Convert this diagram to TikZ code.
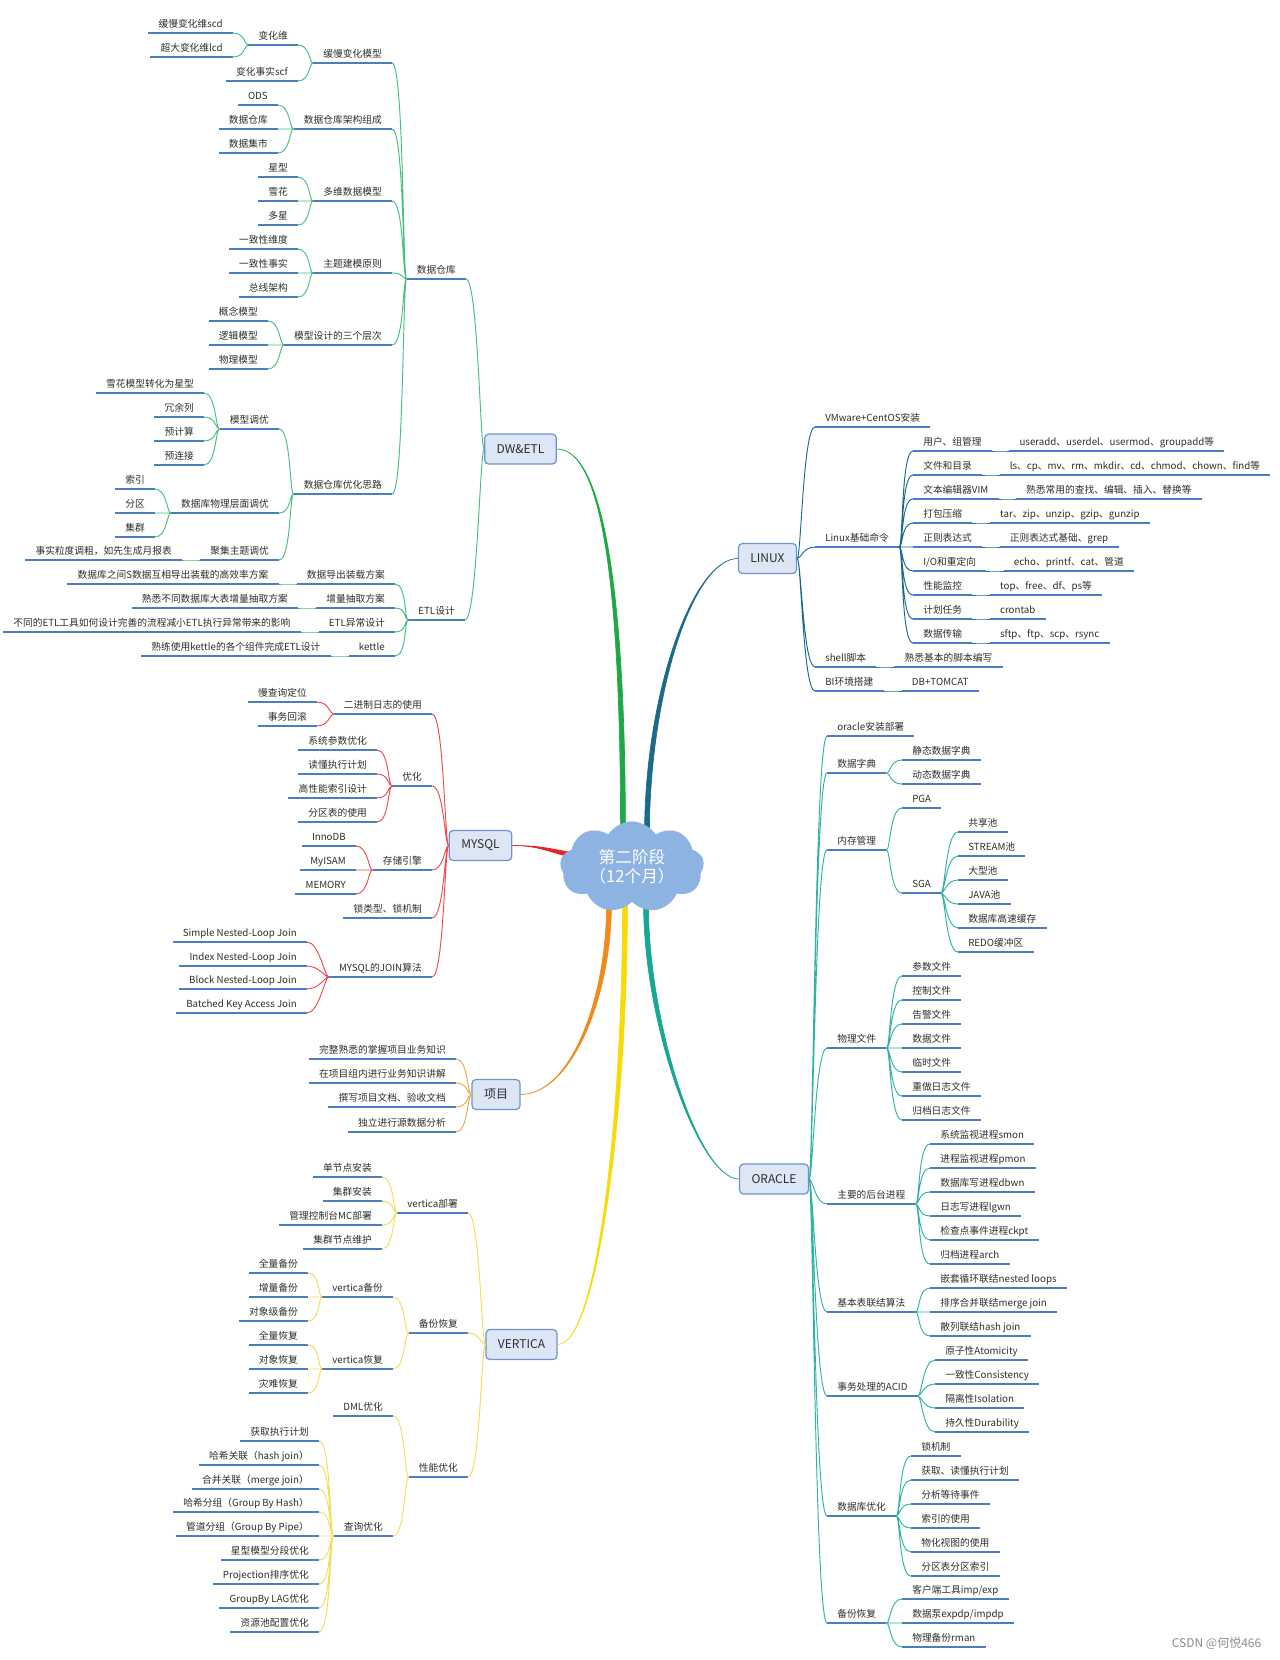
\documentclass[tikz,border=0pt]{standalone}
\usepackage{fontspec}
\setmainfont{Noto Sans CJK SC}
\usepackage{xcolor}
\usepackage{tikz}
\usetikzlibrary{positioning,shapes.symbols}

\definecolor{ubl}{HTML}{4A7EBF}
\definecolor{txt}{HTML}{2E2E2E}
\definecolor{boxf}{HTML}{DCE6F4}
\definecolor{boxd}{HTML}{6D94CC}
\definecolor{cldf}{HTML}{8DB3E2}
\definecolor{cGrn}{HTML}{1EA843}
\definecolor{cGrnL}{HTML}{44C07A}
\definecolor{cLin}{HTML}{1B6A89}
\definecolor{cRed}{HTML}{E82228}
\definecolor{cRedL}{HTML}{EC4B4E}
\definecolor{cOrg}{HTML}{F08A1C}
\definecolor{cOrgL}{HTML}{F2A64A}
\definecolor{cYel}{HTML}{F7DA06}
\definecolor{cYelL}{HTML}{F4DC55}
\definecolor{cOra}{HTML}{18A795}
\definecolor{cOraL}{HTML}{2FB3A3}
\definecolor{wmk}{HTML}{8C8C8C}

\newcommand\tsz{\fontsize{7.3pt}{8.5pt}\selectfont}
\newcommand\hsz{\fontsize{9pt}{11pt}\selectfont}
\newcommand\csz{\fontsize{12.5pt}{14.5pt}\selectfont}

\begin{document}
\begin{tikzpicture}[
  x=0.75pt, y=-0.75pt,
  tp/.style={font=\tsz,text=txt,inner xsep=7.5pt,inner ysep=2.4pt,text height=6.3pt,text depth=1.7pt,
    append after command={\pgfextra{\draw[ubl,line width=1.6pt] (\tikzlastnode.south west) -- (\tikzlastnode.south east);}}},
  lt/.style={tp,anchor=south east},
  rt/.style={tp,anchor=south west},
  hub/.style={draw=boxd,fill=boxf,rounded corners=3pt,line width=0.9pt,font=\hsz,text=txt,minimum height=22.5pt,inner xsep=9pt},
  lk/.style={draw=#1,line width=0.7pt,out=180,in=0,out distance=3pt,in distance=9pt},
  rk/.style={draw=#1,line width=0.7pt,out=0,in=180,out distance=3pt,in distance=9pt},
  trunk/.style={fill=#1,draw=#1,line width=0.5pt}
]
  \fill[white] (0,0) rectangle (1280,1660);
  \useasboundingbox (0,0) rectangle (1280,1660);

  % main topics
  \node[hub] (dw) at (520.5,449) {DW\&ETL};
  \node[hub] (lx) at (767.5,558.5) {LINUX};
  \node[hub] (my) at (480.5,845.5) {MYSQL};
  \node[hub] (xm) at (496,1094.5) {项目};
  \node[hub] (vt) at (521.5,1344.5) {VERTICA};
  \node[hub] (ora) at (774,1179) {ORACLE};

  \coordinate (cDW) at (623,834);
  \coordinate (cLX) at (647,834);
  \coordinate (cMY) at (578,856);
  \coordinate (cXM) at (609,904);
  \coordinate (cVT) at (625,904);
  \coordinate (cOR) at (646,904);

  \path[trunk=cGrn] (dw.east) .. controls +(45,0) and +(0,-250) .. ([xshift=-1.8pt]cDW) -- ([xshift=1.8pt]cDW) .. controls +(0,-250) and +(45,0) .. (dw.east) -- cycle;
  \path[trunk=cLin] (lx.west) .. controls +(-45,0) and +(0,-140) .. ([xshift=-1.8pt]cLX) -- ([xshift=1.8pt]cLX) .. controls +(0,-140) and +(-45,0) .. (lx.west) -- cycle;
  \path[trunk=cRed] (my.east) .. controls +(30,0) and +(-25,-4) .. ([yshift=1.8pt]cMY) -- ([yshift=-1.8pt]cMY) .. controls +(-25,-4) and +(30,0) .. (my.east) -- cycle;
  \path[trunk=cOrg] (xm.east) .. controls +(50,0) and +(0,95) .. ([xshift=-1.8pt]cXM) -- ([xshift=1.8pt]cXM) .. controls +(0,95) and +(50,0) .. (xm.east) -- cycle;
  \path[trunk=cYel] (vt.east) .. controls +(41,0) and +(0,200) .. ([xshift=-1.8pt]cVT) -- ([xshift=1.8pt]cVT) .. controls +(0,200) and +(41,0) .. (vt.east) -- cycle;
  \path[trunk=cOra] (ora.west) .. controls +(-40,0) and +(0,120) .. ([xshift=-1.8pt]cOR) -- ([xshift=1.8pt]cOR) .. controls +(0,120) and +(-40,0) .. (ora.west) -- cycle;

  \node[cloud,cloud puffs=9,cloud puff arc=115,aspect=1.65,fill=cldf,minimum width=108pt,minimum height=65pt,inner sep=0pt,font=\csz,text=white,align=center] (cl) at (632,867) {第二阶段\\（12个月）};

  % DW&ETL
  \node[lt] (dwh) at (466,279) {数据仓库};
  \node[lt] (etl) at (465,620) {ETL设计};
  \draw[lk=cGrnL] (dw.west) to (dwh.south east) (dw.west) to (etl.south east);

  \node[lt] (scm) at (392,63) {缓慢变化模型};
  \node[lt] (arc) at (392,129) {数据仓库架构组成};
  \node[lt] (mdm) at (392,201) {多维数据模型};
  \node[lt] (tpr) at (392,273) {主题建模原则};
  \node[lt] (lvl) at (392,345) {模型设计的三个层次};
  \node[lt] (opt) at (392,494) {数据仓库优化思路};
  \draw[lk=cGrnL] (dwh.south west) to (scm.south east) (dwh.south west) to (arc.south east)
    (dwh.south west) to (mdm.south east) (dwh.south west) to (tpr.south east)
    (dwh.south west) to (lvl.south east) (dwh.south west) to (opt.south east);

  \node[lt] (chd) at (298,45) {变化维};
  \node[lt] (chf) at (298,81) {变化事实scf};
  \node[lt] (scd) at (233,33) {缓慢变化维scd};
  \node[lt] (lcd) at (233,57) {超大变化维lcd};
  \draw[lk=cGrnL] (scm.south west) to (chd.south east) (scm.south west) to (chf.south east);
  \draw[lk=cGrnL] (chd.south west) to (scd.south east) (chd.south west) to (lcd.south east);

  \node[lt] (ods) at (278,105) {ODS};
  \node[lt] (dwc) at (278,129) {数据仓库};
  \node[lt] (dmt) at (278,153) {数据集市};
  \draw[lk=cGrnL] (arc.south west) to (ods.south east) (arc.south west) to (dwc.south east) (arc.south west) to (dmt.south east);

  \node[lt] (star) at (298,177) {星型};
  \node[lt] (snow) at (298,201) {雪花};
  \node[lt] (mst) at (298,225) {多星};
  \draw[lk=cGrnL] (mdm.south west) to (star.south east) (mdm.south west) to (snow.south east) (mdm.south west) to (mst.south east);

  \node[lt] (cdim) at (298,249) {一致性维度};
  \node[lt] (cfac) at (298,273) {一致性事实};
  \node[lt] (bus) at (298,297) {总线架构};
  \draw[lk=cGrnL] (tpr.south west) to (cdim.south east) (tpr.south west) to (cfac.south east) (tpr.south west) to (bus.south east);

  \node[lt] (cpm) at (268,321) {概念模型};
  \node[lt] (lgm) at (268,345) {逻辑模型};
  \node[lt] (phm) at (268,369) {物理模型};
  \draw[lk=cGrnL] (lvl.south west) to (cpm.south east) (lvl.south west) to (lgm.south east) (lvl.south west) to (phm.south east);

  \node[lt] (mtn) at (279,429) {模型调优};
  \node[lt] (ptn) at (279,513) {数据库物理层面调优};
  \node[lt] (atn) at (279,560) {聚集主题调优};
  \draw[lk=cGrnL] (opt.south west) to (mtn.south east) (opt.south west) to (ptn.south east) (opt.south west) to (atn.south east);

  \node[lt] (s2s) at (204,393) {雪花模型转化为星型};
  \node[lt] (rcol) at (204,417) {冗余列};
  \node[lt] (prec) at (204,441) {预计算};
  \node[lt] (prej) at (204,465) {预连接};
  \draw[lk=cGrnL] (mtn.south west) to (s2s.south east) (mtn.south west) to (rcol.south east)
    (mtn.south west) to (prec.south east) (mtn.south west) to (prej.south east);

  \node[lt] (idx) at (155,489) {索引};
  \node[lt] (prt) at (155,513) {分区};
  \node[lt] (clu) at (155,537) {集群};
  \draw[lk=cGrnL] (ptn.south west) to (idx.south east) (ptn.south west) to (prt.south east) (ptn.south west) to (clu.south east);

  \node[lt,left=13.5pt of atn.south west,anchor=south east] (grn) {事实粒度调粗，如先生成月报表};
  \draw[lk=cGrnL] (atn.south west) to (grn.south east);

  \node[lt] (ex) at (395,584) {数据导出装载方案};
  \node[lt] (inc) at (395,608) {增量抽取方案};
  \node[lt] (eer) at (395,632) {ETL异常设计};
  \node[lt] (ket) at (395,656) {kettle};
  \draw[lk=cGrnL] (etl.south west) to (ex.south east) (etl.south west) to (inc.south east)
    (etl.south west) to (eer.south east) (etl.south west) to (ket.south east);
  \node[lt,left=13.5pt of ex.south west,anchor=south east] (exd) {数据库之间S数据互相导出装载的高效率方案};
  \node[lt,left=13.5pt of inc.south west,anchor=south east] (incd) {熟悉不同数据库大表增量抽取方案};
  \node[lt,left=13.5pt of eer.south west,anchor=south east] (eerd) {不同的ETL工具如何设计完善的流程减小ETL执行异常带来的影响};
  \node[lt,left=13.5pt of ket.south west,anchor=south east] (ketd) {熟练使用kettle的各个组件完成ETL设计};
  \draw[lk=cGrnL] (ex.south west) to (exd.south east) (inc.south west) to (incd.south east)
    (eer.south west) to (eerd.south east) (ket.south west) to (ketd.south east);

  % MYSQL
  \node[lt] (bin) at (432,714) {二进制日志的使用};
  \node[lt] (myo) at (432,786) {优化};
  \node[lt] (eng) at (432,870) {存储引擎};
  \node[lt] (lck) at (432,918) {锁类型、锁机制};
  \node[lt] (jn) at (432,977) {MYSQL的JOIN算法};
  \draw[lk=cRedL] (my.west) to (bin.south east) (my.west) to (myo.south east) (my.west) to (eng.south east)
    (my.west) to (lck.south east) (my.west) to (jn.south east);

  \node[lt] (slw) at (317,702) {慢查询定位};
  \node[lt] (rbk) at (317,726) {事务回滚};
  \draw[lk=cRedL] (bin.south west) to (slw.south east) (bin.south west) to (rbk.south east);

  \node[lt] (sysp) at (377,750) {系统参数优化};
  \node[lt] (rexp) at (377,774) {读懂执行计划};
  \node[lt] (hidx) at (377,798) {高性能索引设计};
  \node[lt] (ptab) at (377,822) {分区表的使用};
  \draw[lk=cRedL] (myo.south west) to (sysp.south east) (myo.south west) to (rexp.south east)
    (myo.south west) to (hidx.south east) (myo.south west) to (ptab.south east);

  \node[lt] (inno) at (356,846) {InnoDB};
  \node[lt] (myi) at (356,870) {MyISAM};
  \node[lt] (mem) at (356,894) {MEMORY};
  \draw[lk=cRedL] (eng.south west) to (inno.south east) (eng.south west) to (myi.south east) (eng.south west) to (mem.south east);

  \node[lt] (snl) at (307,942) {Simple Nested-Loop Join};
  \node[lt] (inl) at (307,966) {Index Nested-Loop Join};
  \node[lt] (bnl) at (307,989) {Block Nested-Loop Join};
  \node[lt] (bka) at (307,1013) {Batched Key Access Join};
  \draw[lk=cRedL] (jn.south west) to (snl.south east) (jn.south west) to (inl.south east)
    (jn.south west) to (bnl.south east) (jn.south west) to (bka.south east);

  % 项目
  \node[lt] (k1) at (456,1059) {完整熟悉的掌握项目业务知识};
  \node[lt] (k2) at (456,1083) {在项目组内进行业务知识讲解};
  \node[lt] (k3) at (456,1107) {撰写项目文档、验收文档};
  \node[lt] (k4) at (456,1132) {独立进行源数据分析};
  \draw[lk=cOrgL] (xm.west) to (k1.south east) (xm.west) to (k2.south east) (xm.west) to (k3.south east) (xm.west) to (k4.south east);

  % VERTICA
  \node[lt] (dep) at (468,1213) {vertica部署};
  \node[lt] (bak) at (468,1333) {备份恢复};
  \node[lt] (prf) at (468,1477) {性能优化};
  \draw[lk=cYelL] (vt.west) to (dep.south east) (vt.west) to (bak.south east) (vt.west) to (prf.south east);

  \node[lt] (d1) at (382,1177) {单节点安装};
  \node[lt] (d2) at (382,1201) {集群安装};
  \node[lt] (d3) at (382,1225) {管理控制台MC部署};
  \node[lt] (d4) at (382,1249) {集群节点维护};
  \draw[lk=cYelL] (dep.south west) to (d1.south east) (dep.south west) to (d2.south east)
    (dep.south west) to (d3.south east) (dep.south west) to (d4.south east);

  \node[lt] (vb) at (393,1297) {vertica备份};
  \node[lt] (vr) at (393,1369) {vertica恢复};
  \draw[lk=cYelL] (bak.south west) to (vb.south east) (bak.south west) to (vr.south east);
  \node[lt] (b1) at (308,1273) {全量备份};
  \node[lt] (b2) at (308,1297) {增量备份};
  \node[lt] (b3) at (308,1321) {对象级备份};
  \draw[lk=cYelL] (vb.south west) to (b1.south east) (vb.south west) to (b2.south east) (vb.south west) to (b3.south east);
  \node[lt] (r1) at (308,1345) {全量恢复};
  \node[lt] (r2) at (308,1369) {对象恢复};
  \node[lt] (r3) at (308,1393) {灾难恢复};
  \draw[lk=cYelL] (vr.south west) to (r1.south east) (vr.south west) to (r2.south east) (vr.south west) to (r3.south east);

  \node[lt] (dml) at (393,1416) {DML优化};
  \node[lt] (qry) at (393,1536) {查询优化};
  \draw[lk=cYelL] (prf.south west) to (dml.south east) (prf.south west) to (qry.south east);
  \node[lt] (q1) at (319,1441) {获取执行计划};
  \node[lt] (q2) at (319,1465) {哈希关联（hash join）};
  \node[lt] (q3) at (319,1489) {合并关联（merge join）};
  \node[lt] (q4) at (319,1512) {哈希分组（Group By Hash）};
  \node[lt] (q5) at (319,1536) {管道分组（Group By Pipe）};
  \node[lt] (q6) at (319,1560) {星型模型分段优化};
  \node[lt] (q7) at (319,1584) {Projection排序优化};
  \node[lt] (q8) at (319,1608) {GroupBy LAG优化};
  \node[lt] (q9) at (319,1632) {资源池配置优化};
  \draw[lk=cYelL] (qry.south west) to (q1.south east) (qry.south west) to (q2.south east) (qry.south west) to (q3.south east)
    (qry.south west) to (q4.south east) (qry.south west) to (q5.south east) (qry.south west) to (q6.south east)
    (qry.south west) to (q7.south east) (qry.south west) to (q8.south east) (qry.south west) to (q9.south east);

  % LINUX
  \node[rt] (vm) at (815,427) {VMware+CentOS安装};
  \node[rt] (cmd) at (815,547) {Linux基础命令};
  \node[rt] (sh) at (815,667) {shell脚本};
  \node[rt] (bi) at (815,691) {BI环境搭建};
  \draw[rk=cLin] (lx.east) to (vm.south west) (lx.east) to (cmd.south west) (lx.east) to (sh.south west) (lx.east) to (bi.south west);
  \node[rt,right=13.5pt of sh.south east,anchor=south west] (shd) {熟悉基本的脚本编写};
  \node[rt,right=13.5pt of bi.south east,anchor=south west] (bid) {DB+TOMCAT};
  \draw[rk=cLin] (sh.south east) to (shd.south west) (bi.south east) to (bid.south west);

  \node[rt] (c1) at (913,451) {用户、组管理};
  \node[rt] (c2) at (913,475) {文件和目录};
  \node[rt] (c3) at (913,499) {文本编辑器VIM};
  \node[rt] (c4) at (913,523) {打包压缩};
  \node[rt] (c5) at (913,547) {正则表达式};
  \node[rt] (c6) at (913,571) {I/O和重定向};
  \node[rt] (c7) at (913,595) {性能监控};
  \node[rt] (c8) at (913,619) {计划任务};
  \node[rt] (c9) at (913,643) {数据传输};
  \draw[rk=cLin] (cmd.south east) to (c1.south west) (cmd.south east) to (c2.south west) (cmd.south east) to (c3.south west)
    (cmd.south east) to (c4.south west) (cmd.south east) to (c5.south west) (cmd.south east) to (c6.south west)
    (cmd.south east) to (c7.south west) (cmd.south east) to (c8.south west) (cmd.south east) to (c9.south west);
  \node[rt,right=13pt of c1.south east,anchor=south west] (c1d) {useradd、userdel、usermod、groupadd等};
  \node[rt,right=13pt of c2.south east,anchor=south west] (c2d) {ls、cp、mv、rm、mkdir、cd、chmod、chown、find等};
  \node[rt,right=13pt of c3.south east,anchor=south west] (c3d) {熟悉常用的查找、编辑、插入、替换等};
  \node[rt,right=13pt of c4.south east,anchor=south west] (c4d) {tar、zip、unzip、gzip、gunzip};
  \node[rt,right=13pt of c5.south east,anchor=south west] (c5d) {正则表达式基础、grep};
  \node[rt,right=13pt of c6.south east,anchor=south west] (c6d) {echo、printf、cat、管道};
  \node[rt,right=13pt of c7.south east,anchor=south west] (c7d) {top、free、df、ps等};
  \node[rt,right=13pt of c8.south east,anchor=south west] (c8d) {crontab};
  \node[rt,right=13pt of c9.south east,anchor=south west] (c9d) {sftp、ftp、scp、rsync};
  \draw[rk=cLin] (c1.south east) to (c1d.south west) (c2.south east) to (c2d.south west) (c3.south east) to (c3d.south west)
    (c4.south east) to (c4d.south west) (c5.south east) to (c5d.south west) (c6.south east) to (c6d.south west)
    (c7.south east) to (c7d.south west) (c8.south east) to (c8d.south west) (c9.south east) to (c9d.south west);

  % ORACLE
  \node[rt] (oi) at (827,736) {oracle安装部署};
  \node[rt] (dic) at (827,773) {数据字典};
  \node[rt] (omem) at (827,850) {内存管理};
  \node[rt] (pf) at (827,1048) {物理文件};
  \node[rt] (bgp) at (827,1204) {主要的后台进程};
  \node[rt] (tj) at (827,1312) {基本表联结算法};
  \node[rt] (acid) at (827,1396) {事务处理的ACID};
  \node[rt] (dbo) at (827,1516) {数据库优化};
  \node[rt] (obk) at (827,1623) {备份恢复};
  \draw[rk=cOraL] (ora.east) to (oi.south west) (ora.east) to (dic.south west) (ora.east) to (omem.south west)
    (ora.east) to (pf.south west) (ora.east) to (bgp.south west) (ora.east) to (tj.south west)
    (ora.east) to (acid.south west) (ora.east) to (dbo.south west) (ora.east) to (obk.south west);

  \node[rt] (dc1) at (902,760) {静态数据字典};
  \node[rt] (dc2) at (902,784) {动态数据字典};
  \draw[rk=cOraL] (dic.south east) to (dc1.south west) (dic.south east) to (dc2.south west);

  \node[rt] (pga) at (902,808) {PGA};
  \node[rt] (sga) at (902,893) {SGA};
  \draw[rk=cOraL] (omem.south east) to (pga.south west) (omem.south east) to (sga.south west);
  \node[rt] (sp1) at (958,832) {共享池};
  \node[rt] (sp2) at (958,856) {STREAM池};
  \node[rt] (sp3) at (958,880) {大型池};
  \node[rt] (sp4) at (958,904) {JAVA池};
  \node[rt] (sp5) at (958,928) {数据库高速缓存};
  \node[rt] (sp6) at (958,952) {REDO缓冲区};
  \draw[rk=cOraL] (sga.south east) to (sp1.south west) (sga.south east) to (sp2.south west) (sga.south east) to (sp3.south west)
    (sga.south east) to (sp4.south west) (sga.south east) to (sp5.south west) (sga.south east) to (sp6.south west);

  \node[rt] (f1) at (902,976) {参数文件};
  \node[rt] (f2) at (902,1000) {控制文件};
  \node[rt] (f3) at (902,1024) {告警文件};
  \node[rt] (f4) at (902,1048) {数据文件};
  \node[rt] (f5) at (902,1072) {临时文件};
  \node[rt] (f6) at (902,1096) {重做日志文件};
  \node[rt] (f7) at (902,1120) {归档日志文件};
  \draw[rk=cOraL] (pf.south east) to (f1.south west) (pf.south east) to (f2.south west) (pf.south east) to (f3.south west)
    (pf.south east) to (f4.south west) (pf.south east) to (f5.south west) (pf.south east) to (f6.south west) (pf.south east) to (f7.south west);

  \node[rt] (p1) at (930,1144) {系统监视进程smon};
  \node[rt] (p2) at (930,1168) {进程监视进程pmon};
  \node[rt] (p3) at (930,1192) {数据库写进程dbwn};
  \node[rt] (p4) at (930,1216) {日志写进程lgwn};
  \node[rt] (p5) at (930,1240) {检查点事件进程ckpt};
  \node[rt] (p6) at (930,1264) {归档进程arch};
  \draw[rk=cOraL] (bgp.south east) to (p1.south west) (bgp.south east) to (p2.south west) (bgp.south east) to (p3.south west)
    (bgp.south east) to (p4.south west) (bgp.south east) to (p5.south west) (bgp.south east) to (p6.south west);

  \node[rt] (j1) at (930,1288) {嵌套循环联结nested loops};
  \node[rt] (j2) at (930,1312) {排序合并联结merge join};
  \node[rt] (j3) at (930,1336) {散列联结hash join};
  \draw[rk=cOraL] (tj.south east) to (j1.south west) (tj.south east) to (j2.south west) (tj.south east) to (j3.south west);

  \node[rt] (a1) at (935,1360) {原子性Atomicity};
  \node[rt] (a2) at (935,1384) {一致性Consistency};
  \node[rt] (a3) at (935,1408) {隔离性Isolation};
  \node[rt] (a4) at (935,1432) {持久性Durability};
  \draw[rk=cOraL] (acid.south east) to (a1.south west) (acid.south east) to (a2.south west)
    (acid.south east) to (a3.south west) (acid.south east) to (a4.south west);

  \node[rt] (o1) at (911,1456) {锁机制};
  \node[rt] (o2) at (911,1480) {获取、读懂执行计划};
  \node[rt] (o3) at (911,1504) {分析等待事件};
  \node[rt] (o4) at (911,1528) {索引的使用};
  \node[rt] (o5) at (911,1552) {物化视图的使用};
  \node[rt] (o6) at (911,1576) {分区表分区索引};
  \draw[rk=cOraL] (dbo.south east) to (o1.south west) (dbo.south east) to (o2.south west) (dbo.south east) to (o3.south west)
    (dbo.south east) to (o4.south west) (dbo.south east) to (o5.south west) (dbo.south east) to (o6.south west);

  \node[rt] (e1) at (902,1599) {客户端工具imp/exp};
  \node[rt] (e2) at (902,1623) {数据泵expdp/impdp};
  \node[rt] (e3) at (902,1647) {物理备份rman};
  \draw[rk=cOraL] (obk.south east) to (e1.south west) (obk.south east) to (e2.south west) (obk.south east) to (e3.south west);

  \node[font=\fontsize{9pt}{10pt}\selectfont,text=wmk,anchor=east] (wm) at (1266,1643) {CSDN @何悦466};
\end{tikzpicture}
\end{document}
